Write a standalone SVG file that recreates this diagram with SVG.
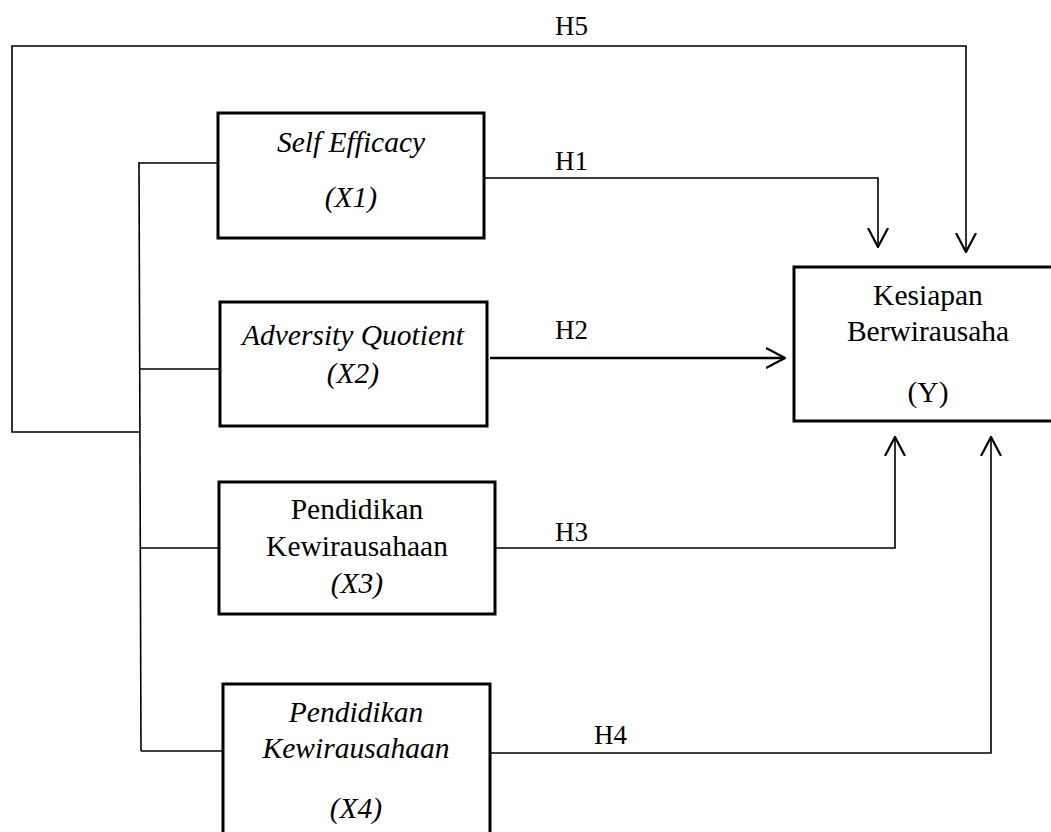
<svg xmlns="http://www.w3.org/2000/svg" width="1051" height="832" viewBox="0 0 1051 832">
<style>
.box{fill:#fff;stroke:#000;stroke-width:3}
.ln{fill:none;stroke:#000;stroke-width:1.6}
.t{font-family:"Liberation Serif","Times New Roman",serif;font-size:29.5px;fill:#000;text-anchor:middle}
.i{font-style:italic}
.h{font-family:"Liberation Serif","Times New Roman",serif;font-size:27px;fill:#000}
</style>
<defs>
<marker id="ah" markerUnits="userSpaceOnUse" viewBox="0 0 20 22" refX="19" refY="11" markerWidth="20" markerHeight="22" orient="auto">
<path d="M0,1 L19,11 L0,21" fill="none" stroke="#000" stroke-width="2.2"/>
</marker>
</defs>
<rect width="1051" height="832" fill="#fff"/>
<g id="connectors">
<polyline class="ln" points="140,432 12,432 12,46 966,46 966,252" marker-end="url(#ah)"/>
<line class="ln" x1="139" y1="162" x2="141" y2="751"/>
<line class="ln" x1="139" y1="163" x2="218" y2="163"/>
<line class="ln" x1="140" y1="369" x2="220" y2="369"/>
<line class="ln" x1="140" y1="548" x2="219" y2="548"/>
<line class="ln" x1="141" y1="751" x2="223" y2="751"/>
<polyline class="ln" points="484,178 878,178 878,247" marker-end="url(#ah)"/>
<line class="ln" x1="490" y1="358" x2="785" y2="358" style="stroke-width:2.6" marker-end="url(#ah)"/>
<polyline class="ln" points="495,548 895,548 895,437" marker-end="url(#ah)"/>
<polyline class="ln" points="490,753 991,753 991,437" marker-end="url(#ah)"/>
<text class="h" x="555" y="35">H5</text>
<text class="h" x="555" y="170">H1</text>
<text class="h" x="555" y="339">H2</text>
<text class="h" x="555" y="541">H3</text>
<text class="h" x="594" y="744">H4</text>
</g>
<g id="x1">
<rect class="box" x="218" y="113" width="266" height="125"/>
<text class="t i" x="351" y="152">Self Efficacy</text>
<text class="t i" x="351" y="207">(X1)</text>
</g>
<g id="x2">
<rect class="box" x="220" y="302" width="267" height="124"/>
<text class="t i" x="353" y="345">Adversity Quotient</text>
<text class="t i" x="353" y="383">(X2)</text>
</g>
<g id="x3">
<rect class="box" x="219" y="482" width="276" height="132"/>
<text class="t" x="357" y="519">Pendidikan</text>
<text class="t" x="357" y="556">Kewirausahaan</text>
<text class="t i" x="357" y="593">(X3)</text>
</g>
<g id="x4">
<rect class="box" x="223" y="684" width="267" height="160"/>
<text class="t i" x="356" y="722">Pendidikan</text>
<text class="t i" x="356" y="758">Kewirausahaan</text>
<text class="t i" x="356" y="818">(X4)</text>
</g>
<g id="y">
<rect class="box" x="794" y="267" width="268" height="154"/>
<text class="t" x="928" y="305">Kesiapan</text>
<text class="t" x="928" y="341">Berwirausaha</text>
<text class="t" x="928" y="402">(Y)</text>
</g>
</svg>
